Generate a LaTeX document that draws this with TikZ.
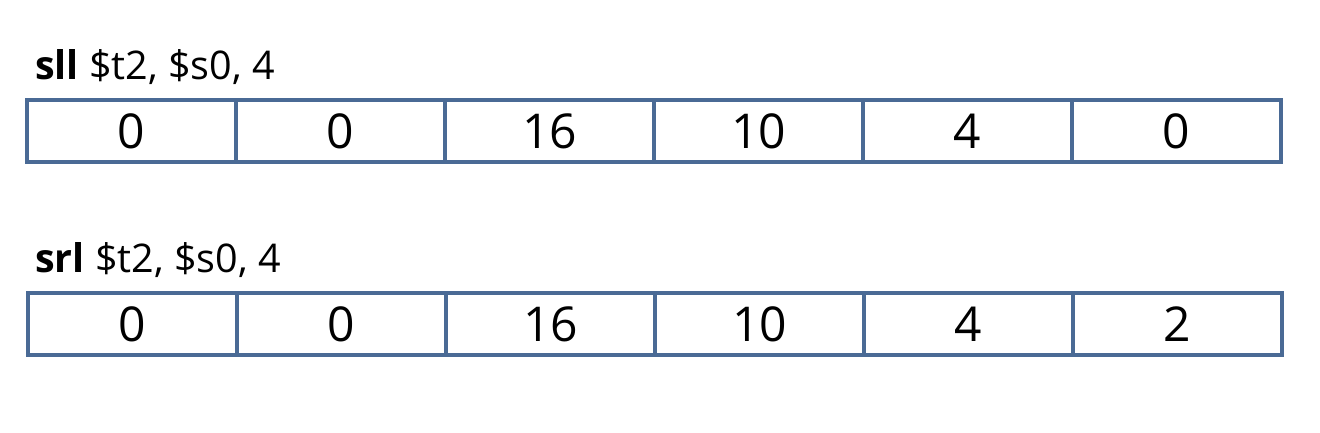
\documentclass[tikz,border=0pt]{standalone}
\usepackage{fontspec}
\setmainfont{Open Sans}
\definecolor{cellblue}{HTML}{4A6A95}
\tikzset{
  cell/.style={draw=cellblue, line width=4.5pt, minimum width=209pt, minimum height=62pt,
    inner sep=0pt, outer sep=0pt, font=\fontsize{48}{50}\selectfont},
  instr/.style={anchor=base west, inner sep=0pt, font=\fontsize{39.5}{41}\selectfont}
}
\begin{document}
\begin{tikzpicture}[x=1pt, y=-1pt]
  \useasboundingbox (0,0) rectangle (1320,432);
  % sll row
  \node[instr] (sll) at (35,79) {\textbf{sll} \$t2, \$s0, 4};
  \node[cell] (a1) at (131.5,131) {0};
  \node[cell] (a2) at (340.5,131) {0};
  \node[cell] (a3) at (549.5,131) {16};
  \node[cell] (a4) at (758.5,131) {10};
  \node[cell] (a5) at (967.5,131) {4};
  \node[cell] (a6) at (1176.5,131) {0};
  % srl row
  \node[instr] (srl) at (35,272) {\textbf{srl} \$t2, \$s0, 4};
  \node[cell] (b1) at (132.5,324) {0};
  \node[cell] (b2) at (341.5,324) {0};
  \node[cell] (b3) at (550.5,324) {16};
  \node[cell] (b4) at (759.5,324) {10};
  \node[cell] (b5) at (968.5,324) {4};
  \node[cell] (b6) at (1177.5,324) {2};
\end{tikzpicture}
\end{document}
